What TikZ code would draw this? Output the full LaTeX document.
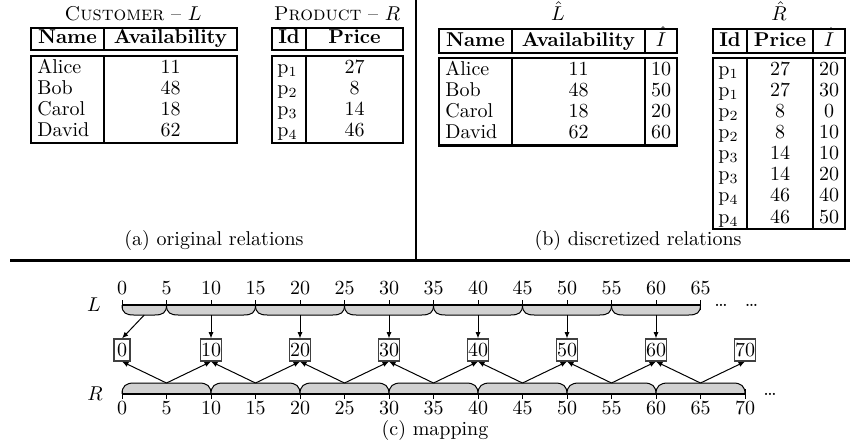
\documentclass[tikz,border=0pt]{standalone}
\usetikzlibrary{arrows.meta}
\begin{document}
\begin{tikzpicture}[x=0.5pt,y=-0.5pt,
  tbl/.style={line width=1.1pt},
  cell/.style={anchor=base,inner sep=0pt},
  lcell/.style={anchor=base west,inner sep=0pt},
  ibox/.style={draw=black!75,line width=0.7pt,inner xsep=0.3pt,inner ysep=2.2pt,
    minimum width=8pt,text height=6.5pt,text depth=0pt},
  bracefill/.style={fill=black!18,draw=black,line width=0.5pt},
  axis/.style={line width=0.9pt},
  arr/.style={-{Latex[length=3.2pt,width=2.6pt]},line width=0.5pt},
  tick/.style={line width=0.5pt}]
\useasboundingbox (0,0) rectangle (850,441);

% ---------- (a) original relations ----------
\node[cell] (t1) at (133,20.5) {\textsc{Customer} -- $L$};
\node[cell] (t2) at (337,20.5) {\textsc{Product} -- $R$};

\draw[tbl] (31,27.7) rectangle (237,50) (104,27.7) -- (104,50);
\node[cell] (h1) at (67.5,43) {\textbf{Name}};
\node[cell] (h2) at (170.5,43) {\textbf{Availability}};
\draw[tbl] (31,55.7) rectangle (237,143) (104,55.7) -- (104,143);
\foreach \n/\a [count=\i from 0] in {Alice/11,Bob/48,Carol/18,David/62} {
  \node[lcell] (cn\i) at (37,{73.2+21.2*\i}) {\n};
  \node[cell] (ca\i) at (170.5,{73.2+21.2*\i}) {\a};
}

\draw[tbl] (272,27.7) rectangle (403,50) (306,27.7) -- (306,50);
\node[cell] (h3) at (289,43) {\textbf{Id}};
\node[cell] (h4) at (354.5,43) {\textbf{Price}};
\draw[tbl] (272,55.7) rectangle (403,143) (306,55.7) -- (306,143);
\foreach \n/\a [count=\i from 0] in {1/27,2/8,3/14,4/46} {
  \node[lcell] (pn\i) at (277,{73.2+21.2*\i}) {p$_\n$};
  \node[cell] (pa\i) at (354.5,{73.2+21.2*\i}) {\a};
}
\node (capa) at (214,240) {(a) original relations};

% ---------- (b) discretized relations ----------
\node[cell] (t3) at (558,20.5) {$\hat{L}$};
\node[cell] (t4) at (779,20.5) {$\hat{R}$};

\draw[tbl] (439,29) rectangle (677,53) (512,29) -- (512,53) (645,29) -- (645,53);
\node[cell] (h5) at (475.5,46) {\textbf{Name}};
\node[cell] (h6) at (578.5,46) {\textbf{Availability}};
\node[cell] (h7) at (661,46) {$\hat{I}$};
\draw[tbl] (439,58) rectangle (677,145.5) (512,58) -- (512,145.5) (645,58) -- (645,145.5);
\foreach \n/\a/\b [count=\i from 0] in {Alice/11/10,Bob/48/50,Carol/18/20,David/62/60} {
  \node[lcell] (dn\i) at (445,{75.3+21.1*\i}) {\n};
  \node[cell] (da\i) at (578.5,{75.3+21.1*\i}) {\a};
  \node[cell] (di\i) at (661,{75.3+21.1*\i}) {\b};
}

\draw[tbl] (713,29.3) rectangle (845,53.3) (747,29.3) -- (747,53.3) (813,29.3) -- (813,53.3);
\node[cell] (h8) at (730,46.3) {\textbf{Id}};
\node[cell] (h9) at (780,46.3) {\textbf{Price}};
\node[cell] (h10) at (829,46.3) {$\hat{I}$};
\draw[tbl] (713,58.3) rectangle (845,229.3) (747,58.3) -- (747,229.3) (813,58.3) -- (813,229.3);
\foreach \n/\a/\b [count=\i from 0] in {1/27/20,1/27/30,2/8/0,2/8/10,3/14/10,3/14/20,4/46/40,4/46/50} {
  \node[lcell] (rn\i) at (718,{75.3+21.1*\i}) {p$_\n$};
  \node[cell] (ra\i) at (780,{75.3+21.1*\i}) {\a};
  \node[cell] (ri\i) at (829,{75.3+21.1*\i}) {\b};
}
\node (capb) at (638,240) {(b) discretized relations};

% ---------- separators ----------
\draw[line width=1pt] (416,0) -- (416,260);
\draw[line width=1.5pt] (10,260) -- (850,260);

% ---------- (c) mapping ----------
\node (lL) at (94,305) {$L$};
\node (lR) at (95,394) {$R$};

% L braces (below axis)
\foreach \a/\b in {0/5,5/15,15/25,25/35,35/45,45/55,55/65} {
  \filldraw[bracefill] ({122+8.9*\a},305) .. controls ({122+8.9*\a},313) and ({126+8.9*\a},315) .. ({134+8.9*\a},315)
    -- ({110+8.9*\b},315) .. controls ({118+8.9*\b},315) and ({122+8.9*\b},313) .. ({122+8.9*\b},305);
}
\draw[axis] (122,305) -- (700.5,305);
\draw[tick] (122,300) -- (122,310) (700.5,300) -- (700.5,310);
\foreach \v in {0,5,...,65} {
  \draw[tick] ({122+8.9*\v},305) -- ({122+8.9*\v},300);
  \node[cell] (ln\v) at ({122+8.9*\v},294) {\v};
}
\node[cell] (ld1) at (721,306) {\dots};
\node[cell] (ld2) at (751.5,306) {\dots};

% R braces (above axis)
\foreach \a/\b in {0/10,10/20,20/30,30/40,40/50,50/60,60/70} {
  \filldraw[bracefill] ({122+8.9*\a},394) .. controls ({122+8.9*\a},386) and ({126+8.9*\a},383) .. ({134+8.9*\a},383)
    -- ({110+8.9*\b},383) .. controls ({118+8.9*\b},383) and ({122+8.9*\b},386) .. ({122+8.9*\b},394);
}
\draw[axis] (122,394) -- (745,394);
\draw[tick] (122,389) -- (122,399) (745,389) -- (745,399);
\foreach \v in {0,5,...,70} {
  \draw[tick] ({122+8.9*\v},394) -- ({122+8.9*\v},399);
  \node[cell] (rn\v) at ({122+8.9*\v},414) {\v};
}
\node[cell] (rd1) at (770,395) {\dots};

% boxes
\foreach \k/\lab in {0/0,1/10,2/20,3/30,4/40,5/50,6/60,7/70} {
  \node[ibox] (b\k) at ({122+89*\k},350) {\lab};
}

% L arrows
\coordinate (lc0) at ({122+8.9*2.5},315);
\foreach \k in {1,...,6} { \coordinate (lc\k) at ({122+89*\k},315); }
\foreach \k in {0,...,6} { \draw[arr] (lc\k) -- (b\k.north); }

% R arrows
\foreach \k in {0,...,6} {
  \coordinate (rc\k) at ({122+89*\k+44.5},383);
  \pgfmathtruncatemacro{\kn}{\k+1}
  \draw[arr] (rc\k) -- (b\k.south);
  \draw[arr] (rc\k) -- (b\kn.south);
}

\node (capc) at (435,430) {(c) mapping};
\end{tikzpicture}
\end{document}
